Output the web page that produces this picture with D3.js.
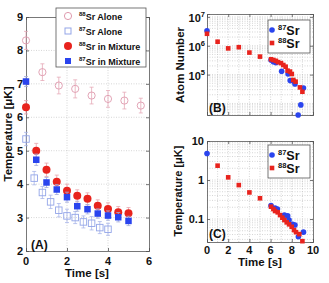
<!DOCTYPE html>
<html>
<head>
<meta charset="utf-8">
<script src="https://cdn.jsdelivr.net/npm/d3@7"></script>
<style>
body { margin: 0; background: #fff; }
text { font-family: "Liberation Sans", Arial, sans-serif; font-weight: bold; fill: #111; }
</style>
</head>
<body>
<svg id="chart" width="329" height="283"></svg>
<script>
// ---- panel A : temperature vs time ----
var timeAlone88 = [0, 0.8, 1.6, 2.4, 3.2, 4.0, 4.8, 5.6];
var tempAlone88 = [8.3, 7.35, 6.95, 6.85, 6.65, 6.55, 6.5, 6.35];
var errAlone88  = [0.27, 0.25, 0.25, 0.27, 0.25, 0.25, 0.25, 0.22];

var timeAlone87 = [0, 0.4, 0.8, 1.2, 1.6, 2.0, 2.4, 2.8, 3.2, 3.6, 4.0];
var tempAlone87 = [5.35, 4.18, 3.75, 3.47, 3.22, 3.05, 3.0, 2.87, 2.83, 2.7, 2.65];
var errAlone87  = [0.2, 0.2, 0.18, 0.2, 0.2, 0.2, 0.18, 0.18, 0.2, 0.18, 0.18];

var timeMix   = [0, 0.5, 1, 1.5, 2, 2.5, 3, 3.5, 4, 4.5, 5];
var tempMix88 = [6.3, 5.0, 4.43, 4.07, 3.8, 3.65, 3.56, 3.35, 3.26, 3.16, 3.13];
var errMix88  = [0.2, 0.22, 0.2, 0.2, 0.2, 0.18, 0.18, 0.18, 0.18, 0.17, 0.17];
var tempMix87 = [7.07, 4.73, 4.05, 3.84, 3.61, 3.34, 3.25, 3.12, 3.06, 3.01, 2.9];
var errMix87  = [0.15, 0.17, 0.15, 0.15, 0.15, 0.15, 0.14, 0.14, 0.14, 0.14, 0.14];

var ticksA_x = [0, 2, 4, 6];
var ticksA_y = [2, 3, 4, 5, 6, 7, 8, 9];

// ---- panel B : atom number vs time ----
var timeN87 = [0, 6.04, 6.26, 6.5, 7.04, 7.65, 7.85, 8.15, 8.3, 8.6, 8.85, 9.1];
var atomN87 = [3.3e6, 3.2e5, 2.8e5, 2.6e5, 1.3e5, 1.05e5, 6.2e4, 6.0e4, 4.7e4, 4.0e3, 8.9e3, 3.4e4];
var timeN88 = [0, 1, 2, 3, 4, 5, 6.04, 6.26, 6.5, 6.7, 6.98, 7.2, 7.42, 7.6, 7.83, 8.0, 8.14, 8.36, 8.77, 9.0];
var atomN88 = [2.6e6, 1.38e6, 8.1e5, 8.9e5, 5.8e5, 4.2e5, 3.4e5, 3.2e5, 3.0e5, 2.7e5, 2.5e5, 2.15e5,
               1.88e5, 1.37e5, 1.27e5, 1.05e5, 6.5e4, 5.7e4, 3.6e4, 2.55e4];

// ---- panel C : temperature (log) vs time ----
var timeT87 = [0, 6.04, 6.42, 6.64, 7.3, 7.61, 7.74, 8.08, 8.3, 8.62, 9.1];
var tempT87 = [4.8, 0.22, 0.19, 0.18, 0.126, 0.12, 0.094, 0.073, 0.07, 0.035, 0.046];
var timeT88 = [1, 2, 3, 4, 5, 6.04, 6.26, 6.42, 6.67, 6.89, 7.11, 7.3, 7.52, 7.74, 7.99, 8.21, 8.4, 8.71, 9.0];
var tempT88 = [2.33, 1.17, 0.74, 0.48, 0.34, 0.207, 0.18, 0.16, 0.148, 0.126, 0.108, 0.094, 0.082,
               0.073, 0.063, 0.052, 0.046, 0.041, 0.027];

var ticksBC_x = [0, 2, 4, 6, 8, 10];
var ticksB_y = [1e5, 1e6, 1e7];
var ticksC_y = [0.1, 1, 10];

var RED = "#e8231d", BLUE = "#2a44ee";

var svg = d3.select("#chart");

// frame, dotted grid and inward ticks for one panel
function drawFrame(x, y, xt, yt, xgrid, ygrid) {
	var g = svg.append("g");
	var x0 = x.range()[0], x1 = x.range()[1], y0 = y.range()[0], y1 = y.range()[1];
	g.selectAll(".gx").data(xgrid).enter().append("line")
		.attr("x1", function(d) { return x(d); }).attr("x2", function(d) { return x(d); })
		.attr("y1", y0).attr("y2", y1)
		.style("stroke", "#c4c4c4").style("stroke-width", 0.7).style("stroke-dasharray", "1,1.5");
	g.selectAll(".gy").data(ygrid).enter().append("line")
		.attr("y1", function(d) { return y(d); }).attr("y2", function(d) { return y(d); })
		.attr("x1", x0).attr("x2", x1)
		.style("stroke", "#c4c4c4").style("stroke-width", 0.7).style("stroke-dasharray", "1,1.5");
	g.append("g").attr("transform", "translate(0," + y0 + ")")
		.call(d3.axisBottom(x).tickValues(xt).tickSize(-3).tickFormat(""));
	g.append("g").attr("transform", "translate(0," + y1 + ")")
		.call(d3.axisTop(x).tickValues(xt).tickSize(-3).tickFormat(""));
	g.append("g").attr("transform", "translate(" + x0 + ",0)")
		.call(d3.axisLeft(y).tickValues(yt).tickSize(-3).tickFormat(""));
	g.append("g").attr("transform", "translate(" + x1 + ",0)")
		.call(d3.axisRight(y).tickValues(yt).tickSize(-3).tickFormat(""));
	g.selectAll(".domain").style("stroke", "#555").style("stroke-width", 0.8);
	g.selectAll(".tick line").style("stroke", "#555").style("stroke-width", 0.8);
	g.selectAll(".tick text").remove();
	return g;
}

function supLabel(g, x, y, sup, main, supSize, mainSize) {
	var t = g.append("text").attr("x", x).attr("y", y);
	t.append("tspan").text(sup).style("font-size", supSize + "px").attr("dy", -mainSize * 0.38);
	t.append("tspan").text(main).style("font-size", mainSize + "px").attr("dy", mainSize * 0.38);
	return t;
}

function errorBars(g, xs, ys, es, x, y, color) {
	var rows = xs.map(function(d, i) { return {t: d, v: ys[i], e: es[i]}; });
	var eb = g.append("g").style("stroke", color).style("stroke-width", 0.8);
	eb.selectAll("line.v").data(rows).enter().append("line")
		.attr("x1", function(d) { return x(d.t); }).attr("x2", function(d) { return x(d.t); })
		.attr("y1", function(d) { return y(d.v - d.e); }).attr("y2", function(d) { return y(d.v + d.e); });
	eb.selectAll("line.a").data(rows).enter().append("line")
		.attr("x1", function(d) { return x(d.t) - 2; }).attr("x2", function(d) { return x(d.t) + 2; })
		.attr("y1", function(d) { return y(d.v + d.e); }).attr("y2", function(d) { return y(d.v + d.e); });
	eb.selectAll("line.b").data(rows).enter().append("line")
		.attr("x1", function(d) { return x(d.t) - 2; }).attr("x2", function(d) { return x(d.t) + 2; })
		.attr("y1", function(d) { return y(d.v - d.e); }).attr("y2", function(d) { return y(d.v - d.e); });
	return rows;
}

function circles(g, rows, x, y, r, fill, stroke) {
	g.append("g").selectAll("circle").data(rows).enter().append("circle")
		.attr("cx", function(d) { return x(d.t); }).attr("cy", function(d) { return y(d.v); })
		.attr("r", r).style("fill", fill).style("stroke", stroke).style("stroke-width", 0.9);
}
function squares(g, rows, x, y, s, fill, stroke) {
	g.append("g").selectAll("rect").data(rows).enter().append("rect")
		.attr("x", function(d) { return x(d.t) - s / 2; }).attr("y", function(d) { return y(d.v) - s / 2; })
		.attr("width", s).attr("height", s).style("fill", fill).style("stroke", stroke).style("stroke-width", 0.9);
}
function pairs(xs, ys) { return xs.map(function(d, i) { return {t: d, v: ys[i]}; }); }

// ================= Panel A =================
var xA = d3.scaleLinear().domain([0, 6]).range([26, 149]);
var yA = d3.scaleLinear().domain([2, 9]).range([251, 17]);
var gA = drawFrame(xA, yA, ticksA_x, ticksA_y, [2, 4], ticksA_y.slice(1, 7));

gA.selectAll(".xl").data(ticksA_x).enter().append("text")
	.attr("x", function(d) { return xA(d); }).attr("y", 265)
	.attr("text-anchor", "middle").style("font-size", "11px").text(function(d) { return d; });
gA.selectAll(".yl").data(ticksA_y).enter().append("text")
	.attr("x", 23).attr("y", function(d) { return yA(d) + 4; })
	.attr("text-anchor", "end").style("font-size", "11px").text(function(d) { return d; });
gA.append("text").attr("x", 87).attr("y", 277).attr("text-anchor", "middle")
	.style("font-size", "11.5px").text("Time [s]");
gA.append("text").attr("transform", "translate(12,134) rotate(-90)").attr("text-anchor", "middle")
	.style("font-size", "11.5px").text("Temperature [\u03bcK]");
gA.append("text").attr("x", 31).attr("y", 249).style("font-size", "12px").text("(A)");

var rA88 = errorBars(gA, timeAlone88, tempAlone88, errAlone88, xA, yA, "#e6a9b8");
circles(gA, rA88, xA, yA, 3.6, "none", "#df9aae");
var rA87 = errorBars(gA, timeAlone87, tempAlone87, errAlone87, xA, yA, "#a9b6ea");
squares(gA, rA87, xA, yA, 6.5, "none", "#93a5e8");
var rM88 = errorBars(gA, timeMix, tempMix88, errMix88, xA, yA, "#e7a4ac");
circles(gA, rM88, xA, yA, 4, RED, "none");
var rM87 = errorBars(gA, timeMix, tempMix87, errMix87, xA, yA, "#a3acdc");
squares(gA, rM87, xA, yA, 6.5, BLUE, "none");

// legend A
var legA = svg.append("g");
legA.append("rect").attr("x", 56).attr("y", 8).attr("width", 90).attr("height", 59)
	.style("fill", "#fff").style("stroke", "#555").style("stroke-width", 0.8);
var legRowsA = [
	{sup: "88", main: "Sr Alone", y: 16},
	{sup: "87", main: "Sr Alone", y: 31},
	{sup: "88", main: "Sr in Mixture", y: 46},
	{sup: "87", main: "Sr in Mixture", y: 61}
];
legA.append("circle").attr("cx", 68).attr("cy", 16).attr("r", 3.6).style("fill", "none").style("stroke", "#df9aae");
legA.append("rect").attr("x", 65).attr("y", 28).attr("width", 6).attr("height", 6).style("fill", "none").style("stroke", "#93a5e8");
legA.append("circle").attr("cx", 68).attr("cy", 46).attr("r", 4).style("fill", RED);
legA.append("rect").attr("x", 65).attr("y", 58).attr("width", 6).attr("height", 6).style("fill", BLUE);
legRowsA.forEach(function(d) { supLabel(legA, 79, d.y + 3.5, d.sup, d.main, 6, 9); });

// ================= Panel B =================
var xB = d3.scaleLinear().domain([0, 10]).range([207, 313]);
var yB = d3.scaleLog().domain([Math.pow(10, 3.6), Math.pow(10, 7.1)]).range([115, 14]);
var minorB = [];
[1e3, 1e4, 1e5, 1e6].forEach(function(dec) {
	for (var k = 1; k < 10; k++) { var v = dec * k; if (v > yB.domain()[0] && v < yB.domain()[1]) minorB.push(v); }
});
minorB.push(1e7);
var gB = drawFrame(xB, yB, ticksBC_x, ticksB_y, d3.range(1, 10), minorB);
ticksB_y.forEach(function(d) {
	var t = gB.append("text").attr("x", 205).attr("y", yB(d) + 5).attr("text-anchor", "end");
	t.append("tspan").text("10").style("font-size", "11px");
	t.append("tspan").text(Math.round(Math.log10(d))).style("font-size", "7.5px").attr("dy", -5);
});
gB.append("text").attr("transform", "translate(184,65) rotate(-90)").attr("text-anchor", "middle")
	.style("font-size", "11.5px").text("Atom Number");
gB.append("text").attr("x", 209).attr("y", 112).style("font-size", "12px").text("(B)");

svg.append("clipPath").attr("id", "clipB").append("rect")
	.attr("x", 203).attr("y", 10).attr("width", 114).attr("height", 108);
var dB = svg.append("g").attr("clip-path", "url(#clipB)");
circles(dB, pairs(timeN87, atomN87), xB, yB, 2.8, BLUE, "none");
squares(dB, pairs(timeN88, atomN88), xB, yB, 4.6, RED, "none");

function legendBC(top) {
	var lg = svg.append("g");
	lg.append("rect").attr("x", 268).attr("y", top).attr("width", 42).attr("height", 33)
		.style("fill", "#fff").style("stroke", "#555").style("stroke-width", 0.8);
	lg.append("circle").attr("cx", 272).attr("cy", top + 10).attr("r", 2.8).style("fill", BLUE);
	lg.append("rect").attr("x", 269.7).attr("y", top + 20.7).attr("width", 4.6).attr("height", 4.6).style("fill", RED);
	supLabel(lg, 278, top + 14.5, "87", "Sr", 7.5, 12.5);
	supLabel(lg, 278, top + 27.5, "88", "Sr", 7.5, 12.5);
}
legendBC(20);

// ================= Panel C =================
var xC = d3.scaleLinear().domain([0, 10]).range([207, 313]);
var yC = d3.scaleLog().domain([Math.pow(10, 1 - 101 / 39), 10]).range([242, 141]);
var minorC = [];
[0.01, 0.1, 1].forEach(function(dec) {
	for (var k = 1; k < 10; k++) { var v = dec * k; if (v > yC.domain()[0] && v < yC.domain()[1]) minorC.push(v); }
});
var gC = drawFrame(xC, yC, ticksBC_x, ticksC_y, d3.range(1, 10), minorC);
gC.selectAll(".xl").data(ticksBC_x).enter().append("text")
	.attr("x", function(d) { return xC(d); }).attr("y", 254)
	.attr("text-anchor", "middle").style("font-size", "11px").text(function(d) { return d; });
gC.selectAll(".yl").data(ticksC_y).enter().append("text")
	.attr("x", 204).attr("y", function(d) { return yC(d) + 4; })
	.attr("text-anchor", "end").style("font-size", "11px").text(function(d) { return d; });
gC.append("text").attr("x", 260).attr("y", 266).attr("text-anchor", "middle")
	.style("font-size", "11.5px").text("Time [s]");
gC.append("text").attr("transform", "translate(182,191) rotate(-90)").attr("text-anchor", "middle")
	.style("font-size", "11px").text("Temperature [\u03bcK]");
gC.append("text").attr("x", 209).attr("y", 238).style("font-size", "12px").text("(C)");

svg.append("clipPath").attr("id", "clipC").append("rect")
	.attr("x", 203).attr("y", 137).attr("width", 114).attr("height", 108);
var dC = svg.append("g").attr("clip-path", "url(#clipC)");
circles(dC, pairs(timeT87, tempT87), xC, yC, 2.8, BLUE, "none");
squares(dC, pairs(timeT88, tempT88), xC, yC, 4.6, RED, "none");
legendBC(145);
</script>
</body>
</html>
